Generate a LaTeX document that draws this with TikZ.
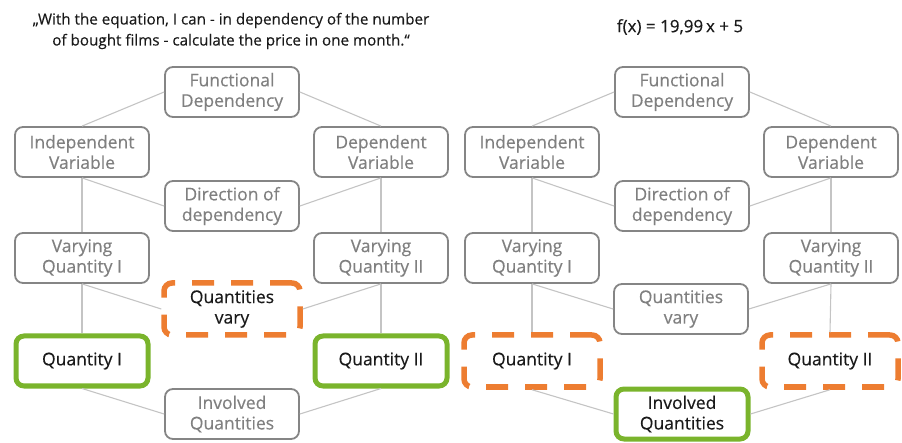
\documentclass[tikz,border=0pt]{standalone}
\usepackage{fontspec}
\setmainfont{Open Sans}
\newfontfamily\labelfont{Open Sans}[FakeBold=0.35]
\definecolor{boxgray}{HTML}{858585}
\definecolor{txtgray}{HTML}{808080}
\definecolor{linkgray}{HTML}{C4C4C4}
\definecolor{okgreen}{HTML}{7AB42C}
\definecolor{warnorange}{HTML}{ED7D31}
\definecolor{inktext}{HTML}{1A1A1A}
\begin{document}
\begin{tikzpicture}[x=1pt,y=-1pt,
  box/.style={draw=boxgray, line width=1.8pt, rounded corners=8pt, fill=white,
    minimum width=134pt, minimum height=50pt, inner sep=0pt, align=center,
    text=txtgray, font=\labelfont\fontsize{17.5}{20.5}\selectfont},
  greenbox/.style={box, draw=okgreen, line width=5pt, text=inktext,
    minimum width=132pt, minimum height=50pt},
  orangebox/.style={box, draw=warnorange, line width=5.5pt, text=inktext,
    dash pattern=on 22pt off 17pt, minimum width=136pt, minimum height=52pt},
  link/.style={draw=linkgray, line width=1.1pt},
  caption/.style={text=inktext, align=center, font=\labelfont\fontsize{15.2}{21}\selectfont}
]
\useasboundingbox (0,0) rectangle (902,443);

% headings
\node[caption] (quote) at (231,31) {„With the equation, I can - in dependency of the number\\of bought films - calculate the price in one month.“};
\node[caption, font=\labelfont\fontsize{17}{21}\selectfont] (formula) at (680,27) {f(x) = 19,99\,x + 5};

% left diagram
\node[box] (fdA) at (232,92) {Functional\\Dependency};
\node[box] (ivA) at (82,152) {Independent\\Variable};
\node[box] (dvA) at (381,152) {Dependent\\Variable};
\node[box] (dirA) at (232,206) {Direction of\\dependency};
\node[box] (vq1A) at (82,258) {Varying\\Quantity I};
\node[box] (vq2A) at (381,258) {Varying\\Quantity II};
\node[orangebox] (qvA) at (232,309) {Quantities\\vary};
\node[greenbox] (q1A) at (82,361) {Quantity I};
\node[greenbox] (q2A) at (381,361) {Quantity II};
\node[box] (iqA) at (232,414) {Involved\\Quantities};

% right diagram
\node[box] (fdB) at (682,92) {Functional\\Dependency};
\node[box] (ivB) at (532,152) {Independent\\Variable};
\node[box] (dvB) at (831,152) {Dependent\\Variable};
\node[box] (dirB) at (682,206) {Direction of\\dependency};
\node[box] (vq1B) at (532,258) {Varying\\Quantity I};
\node[box] (vq2B) at (831,258) {Varying\\Quantity II};
\node[box] (qvB) at (681,309) {Quantities\\vary};
\node[orangebox] (q1B) at (532,361) {Quantity I};
\node[orangebox] (q2B) at (830,361) {Quantity II};
\node[greenbox] (iqB) at (682,414) {Involved\\Quantities};

% connectors
\foreach \s in {A,B}{
  \draw[link] (fd\s.west) -- (iv\s.north);
  \draw[link] (fd\s.east) -- (dv\s.north);
  \draw[link] (iv\s.south) -- (dir\s.west);
  \draw[link] (dv\s.south) -- (dir\s.east);
  \draw[link] (iv\s.south) -- (vq1\s.north);
  \draw[link] (dv\s.south) -- (vq2\s.north);
  \draw[link] (vq1\s.south) -- (qv\s.west);
  \draw[link] (vq2\s.south) -- (qv\s.east);
  \draw[link] (vq1\s.south) -- (q1\s.north);
  \draw[link] (vq2\s.south) -- (q2\s.north);
  \draw[link] (q1\s.south) -- (iq\s.west);
  \draw[link] (q2\s.south) -- (iq\s.east);
}
\end{tikzpicture}
\end{document}
